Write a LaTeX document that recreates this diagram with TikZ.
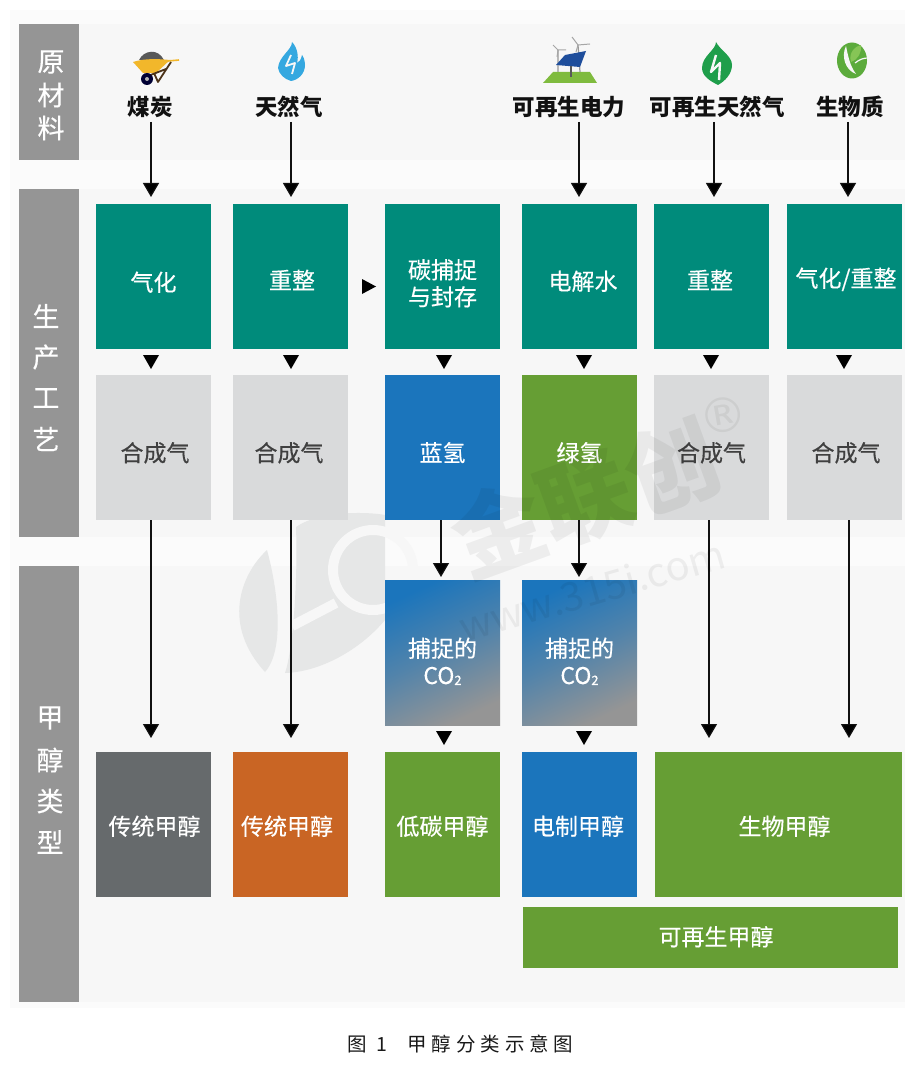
\documentclass[tikz,border=0pt]{standalone}
\usepackage{fontspec}
\setmainfont{Noto Sans CJK SC}
\newfontfamily\medf[FakeBold=0.35]{Noto Sans CJK SC}
\newfontfamily\symf{DejaVu Sans}
\usetikzlibrary{arrows.meta,calc}
\definecolor{teal1}{HTML}{008B7B}
\definecolor{gray1}{HTML}{D9DADB}
\definecolor{blue1}{HTML}{1B75BC}
\definecolor{green1}{HTML}{669E34}
\definecolor{dark1}{HTML}{666A6C}
\definecolor{orange1}{HTML}{C96524}
\definecolor{side1}{HTML}{959595}
\definecolor{ink1}{HTML}{111111}
\definecolor{panel1}{HTML}{F7F7F7}
\definecolor{logo1}{HTML}{E6E7E7}
\definecolor{tray1}{HTML}{F2B72B}
\definecolor{flame1}{HTML}{35A8E0}
\definecolor{flame2}{HTML}{1F9E4B}
\definecolor{leaf1}{HTML}{5CAB3C}
\definecolor{leaf2}{HTML}{86C556}
\definecolor{grass1}{HTML}{7FBB3E}
\definecolor{solar1}{HTML}{1F4E9C}
\tikzset{
  x=1pt,y=-1pt,
  boxbase/.style={minimum width=115pt,minimum height=145pt,inner sep=0pt,align=center,font=\medf\fontsize{23}{27}\selectfont,text=white},
  tealbox/.style={boxbase,fill=teal1},
  graybox/.style={boxbase,fill=gray1,text=black!75},
  bluebox/.style={boxbase,fill=blue1},
  greenbox/.style={boxbase,fill=green1},
  darkbox/.style={boxbase,fill=dark1},
  orangebox/.style={boxbase,fill=orange1},
  fadebox/.style={boxbase,shade,shading=axis,top color=blue1,bottom color=side1,middle color=blue1!55!side1,shading angle=25},
  sidebox/.style={fill=side1,minimum width=60pt,inner sep=0pt},
  sidetext/.style={text=white,inner sep=0pt,font=\medf\fontsize{27}{27}\selectfont},
  rawlabel/.style={inner sep=0pt,font=\bfseries\fontsize{22.5}{24}\selectfont,text=ink1},
  conn/.style={draw=ink1,line width=1.2pt,-{Triangle[length=14pt,width=16pt,fill=black]},shorten >=0pt},
  tri/.style={fill=black},
  mark1/.style={text=black,opacity=.055,inner sep=0pt}
}
\newcommand{\downtri}[2]{\fill[tri] (#1-8,#2-7) -- (#1+8,#2-7) -- (#1,#2+7) -- cycle;}
% \lift{dx}{dy}{text}: sets a box text off the box centre
\newcommand{\lift}[3]{\raisebox{\dimexpr-#2pt-8pt\relax}[0pt][0pt]{\makebox[115pt]{\hspace{#1pt}\hspace{#1pt}#3}}}
\newcommand{\twolines}[3]{\raisebox{\dimexpr-#1pt\relax}[0pt][0pt]{\parbox{115pt}{\centering\baselineskip=27pt #2\\#3}}}
\begin{document}
\begin{tikzpicture}
\useasboundingbox (0,0) rectangle (920,1067);
\fill[white] (0,0) rectangle (920,1067);
% backgrounds
\fill[black!1.5] (10,10) rectangle (905,1008);
\fill[panel1] (79,24) rectangle (905,160);
\fill[panel1] (79,189) rectangle (905,537);
\fill[panel1] (79,566) rectangle (905,1002);
% watermark logo, behind the boxes
\fill[logo1] (267,550) .. controls (240,575) and (222,625) .. (265,672) .. controls (285,650) and (278,590) .. (267,550) -- cycle;
\fill[logo1] (296,527) .. controls (320,510) and (370,512) .. (385,515) -- (385,620) .. controls (360,650) and (320,672) .. (285,673) .. controls (293,650) and (298,580) .. (296,527) -- cycle;
\draw[panel1,line width=10pt] (373,570) circle (40);
\draw[panel1,line width=10pt] (336,603) -- (292,626);
% side bars
\node[sidebox,minimum height=136pt] (sa) at (49,92) {};
\node[sidebox,minimum height=348pt] (sb) at (49,363) {};
\node[sidebox,minimum height=436pt] (sc) at (49,784) {};
\node[sidetext] (s1) at (51,62) {原};
\node[sidetext] (s2) at (51,95) {材};
\node[sidetext] (s3) at (51,128) {料};
\node[sidetext] (s4) at (46,316) {生};
\node[sidetext] (s5) at (46,357) {产};
\node[sidetext] (s6) at (46,398) {工};
\node[sidetext] (s7) at (46,439) {艺};
\node[sidetext] (s8) at (50,718) {甲};
\node[sidetext] (s9) at (50,760) {醇};
\node[sidetext] (s10) at (50,801) {类};
\node[sidetext] (s11) at (50,842) {型};
% raw material labels
\node[rawlabel] (r1) at (150,107) {煤炭};
\node[rawlabel] (r2) at (289,107) {天然气};
\node[rawlabel] (r3) at (569,107) {可再生电力};
\node[rawlabel] (r4) at (717,107) {可再生天然气};
\node[rawlabel] (r5) at (850,107) {生物质};
% row 1
\node[tealbox] (a1) at (153.5,276.5) {\lift{0}{6.5}{气化}};
\node[tealbox] (a2) at (290.5,276.5) {\lift{1.5}{4.5}{重整}};
\node[tealbox] (a3) at (442.5,276.5) {\twolines{13}{碳捕捉}{与封存}};
\node[tealbox] (a4) at (579.5,276.5) {\lift{3.5}{5.5}{电解水}};
\node[tealbox] (a5) at (711.5,276.5) {\lift{-1.5}{4.5}{重整}};
\node[tealbox] (a6) at (844.5,276.5) {\lift{1.5}{2.5}{气化/重整}};
% row 2
\node[graybox] (b1) at (153.5,447.5) {\lift{1.5}{6}{合成气}};
\node[graybox] (b2) at (290.5,447.5) {\lift{-1.5}{6}{合成气}};
\node[bluebox] (b3) at (442.5,447.5) {\lift{0}{6}{蓝氢}};
\node[greenbox] (b4) at (579.5,447.5) {\lift{0}{6}{绿氢}};
\node[graybox] (b5) at (711.5,447.5) {\lift{0}{6}{合成气}};
\node[graybox] (b6) at (844.5,447.5) {\lift{1.5}{6}{合成气}};
% row 3
\node[fadebox] (c3) at (442.5,652.5) {\twolines{15}{捕捉的}{CO\raisebox{-1pt}{\fontsize{13}{13}\selectfont 2}}};
\node[fadebox] (c4) at (579.5,652.5) {\twolines{15}{捕捉的}{CO\raisebox{-1pt}{\fontsize{13}{13}\selectfont 2}}};
% row 4
\node[darkbox] (d1) at (153.5,824.5) {\lift{1}{2.5}{传统甲醇}};
\node[orangebox] (d2) at (290.5,824.5) {\lift{-3.5}{2.5}{传统甲醇}};
\node[greenbox] (d3) at (442.5,824.5) {\lift{0}{2.5}{低碳甲醇}};
\node[bluebox] (d4) at (579.5,824.5) {\lift{-1.5}{2.5}{电制甲醇}};
\node[greenbox,minimum width=247pt] (d5) at (778.5,824.5) {\lift{6}{2.5}{生物甲醇}};
\node[greenbox,minimum width=375pt,minimum height=61pt] (e1) at (710.5,937.5) {\lift{5.5}{0}{可再生甲醇}};
% connector columns
\coordinate (x1) at (151,0);
\coordinate (x2) at (291,0);
\coordinate (x3) at (579,0);
\coordinate (x4) at (714,0);
\coordinate (x5) at (848,0);
\coordinate (x6) at (441,0);
\coordinate (x7) at (579,0);
\coordinate (x8) at (709,0);
\coordinate (x9) at (849,0);
\coordinate (y1) at (0,122);
\coordinate (y2) at (0,197);
\coordinate (y3) at (0,577);
\coordinate (y4) at (0,738);
% raw to process
\draw[conn] (x1 |- y1) -- (x1 |- y2);
\draw[conn] (x2 |- y1) -- (x2 |- y2);
\draw[conn] (x3 |- y1) -- (x3 |- y2);
\draw[conn] (x4 |- y1) -- (x4 |- y2);
\draw[conn] (x5 |- y1) -- (x5 |- y2);
% long connectors
\draw[conn] (x1 |- b1.south) -- (x1 |- y4);
\draw[conn] (x2 |- b2.south) -- (x2 |- y4);
\draw[conn] (x6 |- b3.south) -- (x6 |- y3);
\draw[conn] (x7 |- b4.south) -- (x7 |- y3);
\draw[conn] (x8 |- b5.south) -- (x8 |- y4);
\draw[conn] (x9 |- b6.south) -- (x9 |- y4);
% lone arrowheads
\downtri{151}{362}\downtri{291}{362}\downtri{444}{362}\downtri{584}{362}\downtri{711}{362}\downtri{844}{362}
\downtri{444}{738}\downtri{584}{738}
\fill[tri] (362,279) -- (376,286.5) -- (362,294) -- cycle;
% icon: wheelbarrow
\fill[black!65] (139,60) .. controls (144,50) and (158,48) .. (164,60) -- cycle;
\fill[tray1] (133,62) .. controls (145,58) and (160,59) .. (170,60) -- (156,73) -- (143,73) -- cycle;
\draw[tray1,line width=1.6pt] (168,61) -- (179,60);
\draw[black!60!brown,line width=1.8pt,line join=round] (171,62) -- (158,82) -- (154,73) (148,76) -- (166,69);
\fill[black!80!blue] (147,79) circle (6);
\fill[black!30] (147,79) circle (2);
% icon: blue flame
\fill[flame1] (292,42) .. controls (292,50) and (279,56) .. (278,68) .. controls (279,74) and (284,79) .. (291,81)
  .. controls (298,80) and (305,74) .. (305,65) .. controls (305,60) and (303,56) .. (302,55)
  .. controls (301,60) and (299,62) .. (297,63) .. controls (299,56) and (297,47) .. (292,42) -- cycle;
\draw[panel1,line width=1.8pt,line join=round] (291,55) -- (286,66) -- (295,63) -- (292,74);
% icon: solar and wind
\fill[grass1] (543,83) -- (553,72) -- (590,72) -- (597,83) -- cycle;
\draw[black!40,line width=1.2pt] (558,50) -- (558,72) (578,45) -- (580,72);
\draw[black!35,line width=1pt] (558,50) -- (553,45) (558,50) -- (566,50) (558,50) -- (557,57)
  (578,45) -- (572,37) (578,45) -- (590,44) (578,45) -- (576,52);
\fill[solar1] (565,55) -- (586,51) -- (580,67) -- (556,65) -- cycle;
\draw[black!65,line width=1.6pt] (571,66) -- (571,77);
% icon: green flame
\fill[flame2] (716,42) .. controls (716,50) and (702,56) .. (702,68) .. controls (702,76) and (710,81) .. (718,85)
  .. controls (725,81) and (732,74) .. (732,65) .. controls (732,56) and (720,50) .. (716,42) -- cycle;
\draw[panel1,line width=2.4pt,line join=round] (716,55) -- (711,72) -- (720,63) -- (719,80);
% icon: leaf
\fill[leaf1] (852,60.5) ellipse (15 and 18);
\fill[panel1] (846,46) .. controls (841,56) and (845,70) .. (856,74) .. controls (850,66) and (848,56) .. (846,46) -- cycle;
\fill[leaf2] (851,62) .. controls (848,52) and (856,46) .. (861,45) .. controls (862,52) and (858,60) .. (851,62) -- cycle;
\draw[panel1,line width=1.2pt] (855,63) .. controls (860,59) and (864,58) .. (868,58);
% watermark text
\node[mark1,rotate=20,font=\bfseries\fontsize{92}{92}\selectfont] (wm1) at (585,498) {金联创};
\node[mark1,rotate=16,font=\fontsize{40}{40}\selectfont] (wm2) at (592,590) {www.315i.com};
\node[mark1,font=\symf\fontsize{48}{48}\selectfont,rotate=10] (wm3) at (723,415) {®};
% caption
\node[anchor=west,inner sep=0pt,font=\fontsize{19.5}{21}\selectfont,text=black!90] (cap) at (347,1044) {\addfontfeature{LetterSpace=25}图\hspace{10pt}1\hspace{20pt}甲醇分类示意图};
\end{tikzpicture}
\end{document}
